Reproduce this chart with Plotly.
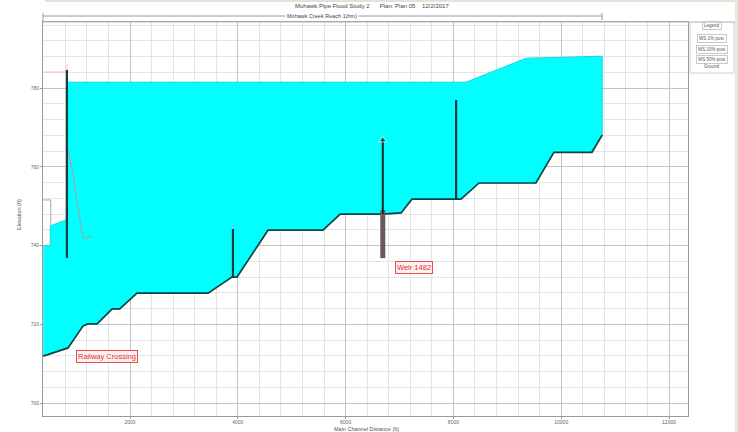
import plotly.graph_objects as go

# Water surface (upper edge of the flooded area), main channel distance (ft) vs elevation (ft)
ws_x = [390, 520, 520, 760, 820, 835, 8230, 9350, 10760]
ws_y = [739.9, 739.9, 745.0, 746.2, 746.5, 781.5, 781.5, 787.6, 788.1]

# Channel invert / ground profile
ground_x = [390, 850, 1130, 1220, 1390, 1670, 1810, 2130, 3450, 3890, 3985, 4560, 5580,
            5900, 6690, 7030, 7230, 8140, 8475, 9530, 9865, 10570, 10760]
ground_y = [711.9, 714.0, 719.6, 720.1, 720.1, 723.9, 723.9, 727.9, 727.9, 732.0, 732.0, 743.9, 743.9,
            748.0, 748.0, 748.3, 751.8, 751.8, 755.9, 755.9, 763.7, 763.7, 768.1]

# Structures drawn as vertical bars (station, bottom, top)
struct_x = [830, 3910, 8050]
struct_lo = [736.8, 732.0, 751.8]
struct_hi = [784.6, 744.2, 777.0]

# Weir: deck below ground and the part standing in the flow
weir_x = 6690
weir_deck = [736.8, 749.0]
weir_top = [748.0, 766.8]

# Secondary profile near the railway crossing
alt_x = [850, 930, 1010, 1090, 1130, 1180, 1295]
alt_y = [764.3, 759.0, 752.0, 745.0, 742.2, 741.9, 742.4]

edge_x = [390, 530, 530]
edge_y = [751.6, 751.6, 745.0]

hi_x = [390, 830, 830]
hi_y = [784.1, 784.1, 786.0]

x_ticks = [2000, 4000, 6000, 8000, 10000, 12000]
y_ticks = [700, 720, 740, 760, 780]
x_range = [386, 12352]
y_range = [696.7, 796.8]

title_text = "Mohawk Pipe Flood Study 2      Plan: Plan 05    12/2/2017"
reach_text = "Mohawk Creek Reach 1(hm)"
legend_items = ["Legend", "WS 1% post", "WS 10% post", "WS 50% post", "Ground"]
labels = [("Railway Crossing", 1573, 711.9), ("Weir 1482", 7269, 734.5)]

FONT = "Liberation Sans"

poly_x = ws_x + ground_x[::-1]
poly_y = ws_y + ground_y[::-1]

fig = go.Figure()

fig.add_trace(go.Scatter(x=poly_x, y=poly_y, mode="lines", fill="toself",
                         fillcolor="#00ffff", line=dict(color="#18d4e0", width=1),
                         hoverinfo="skip"))
fig.add_trace(go.Scatter(x=hi_x, y=hi_y, mode="lines",
                         line=dict(color="#f2c6c0", width=1), hoverinfo="skip"))
fig.add_trace(go.Scatter(x=edge_x, y=edge_y, mode="lines",
                         line=dict(color="#a8a8a8", width=1), hoverinfo="skip"))
fig.add_trace(go.Scatter(x=alt_x, y=alt_y, mode="lines",
                         line=dict(color="#9aa8a8", width=1.2, shape="spline"),
                         hoverinfo="skip"))
fig.add_trace(go.Scatter(x=ground_x, y=ground_y, mode="lines",
                         line=dict(color="#124444", width=1.7), hoverinfo="skip"))

for sx, lo, hi in zip(struct_x, struct_lo, struct_hi):
    fig.add_trace(go.Scatter(x=[sx, sx], y=[lo, hi], mode="lines",
                             line=dict(color="#143c3c", width=2.2), hoverinfo="skip"))

fig.add_trace(go.Scatter(x=[weir_x, weir_x], y=weir_deck, mode="lines",
                         line=dict(color="#6a5a5a", width=5), hoverinfo="skip"))
fig.add_trace(go.Scatter(x=[weir_x, weir_x], y=weir_top, mode="lines+markers",
                         line=dict(color="#1a2a2a", width=2),
                         marker=dict(symbol="triangle-up", size=[0, 7], color="#1a2a2a"),
                         hoverinfo="skip"))

for text, lx, ly in labels:
    fig.add_annotation(x=lx, y=ly, xref="x", yref="y", text=text, showarrow=False,
                       xanchor="center", yanchor="middle",
                       font=dict(family=FONT, size=7.5, color="#e03030"),
                       bgcolor="#fff0f0", bordercolor="#e05050", borderwidth=1, borderpad=1)

# Frame elements around the plot: title, reach line with end ticks, legend panel
L, R, T, B = 43, 688, 22, 416


def px(xp):
    return (xp - L) / (R - L)


def py(yp):
    return (B - yp) / (B - T)


shapes = [
    dict(type="line", xref="paper", yref="paper", x0=0, x1=px(602), y0=py(16), y1=py(16),
         line=dict(color="#9a9a9a", width=1)),
    dict(type="line", xref="paper", yref="paper", x0=0, x1=0, y0=py(22), y1=py(13),
         line=dict(color="#9a9a9a", width=1)),
    dict(type="line", xref="paper", yref="paper", x0=px(602), x1=px(602), y0=py(20), y1=py(13),
         line=dict(color="#9a9a9a", width=1)),
    dict(type="line", xref="paper", yref="paper", x0=0, x1=px(738), y0=1, y1=1,
         line=dict(color="#b8b8b8", width=1)),
    dict(type="line", xref="paper", yref="paper", x0=px(45), x1=px(738), y0=py(1), y1=py(1),
         line=dict(color="#dde6d4", width=2)),
    dict(type="line", xref="paper", yref="paper", x0=px(736.5), x1=px(736.5), y0=py(432), y1=py(0),
         line=dict(color="#e2ecd6", width=3)),
    dict(type="rect", xref="paper", yref="paper", x0=px(690), x1=px(734), y0=py(73), y1=py(22),
         line=dict(color="#d0d0d0", width=1)),
]
fig.update_layout(shapes=shapes)

fig.add_annotation(x=px(372), y=py(6), xref="paper", yref="paper", text=title_text,
                   xanchor="center", yanchor="middle",
                   showarrow=False, font=dict(family=FONT, size=6, color="#444"))
fig.add_annotation(x=px(322), y=py(16), xref="paper", yref="paper", text=reach_text,
                   xanchor="center", yanchor="middle",
                   showarrow=False, bgcolor="white",
                   font=dict(family=FONT, size=5.5, color="#444"))

legend_rows = [25.5, 38, 49, 59, 67]
for i, (txt, yr) in enumerate(zip(legend_items, legend_rows)):
    fig.add_annotation(x=px(712), y=py(yr), xref="paper", yref="paper", text=txt,
                       xanchor="center", yanchor="middle",
                       showarrow=False, font=dict(family=FONT, size=4.5, color="#555"),
                       bordercolor="#c8c8c8" if i < 4 else "rgba(0,0,0,0)",
                       borderwidth=1, borderpad=1)

fig.add_annotation(x=px(19), y=py(215), xref="paper", yref="paper", text="Elevation (ft)",
                   xanchor="center", yanchor="middle",
                   textangle=-90, showarrow=False,
                   font=dict(family=FONT, size=5.5, color="#555"))
fig.add_annotation(x=px(366), y=py(429), xref="paper", yref="paper",
                   xanchor="center", yanchor="middle",
                   text="Main Channel Distance (ft)", showarrow=False,
                   font=dict(family=FONT, size=5.5, color="#555"))

axis_common = dict(showline=True, linecolor="#9a9a9a", linewidth=1, mirror=True,
                   ticks="outside", ticklen=2, tickcolor="#9a9a9a", automargin=False,
                   gridcolor="#c4c4c4", gridwidth=1, zeroline=False,
                   tickfont=dict(family=FONT, size=5, color="#666"))

fig.update_xaxes(range=x_range, tickvals=x_ticks, ticktext=[str(v) for v in x_ticks],
                 ticklabelstandoff=-1,
                 minor=dict(dtick=400, tick0=0, showgrid=True, gridcolor="#e4e4e4", gridwidth=1),
                 **axis_common)
fig.update_yaxes(range=y_range, tickvals=y_ticks, ticktext=[str(v) for v in y_ticks],
                 minor=dict(dtick=4, tick0=700, showgrid=True, gridcolor="#e4e4e4", gridwidth=1),
                 **axis_common)

fig.update_layout(width=738, height=432, margin=dict(l=L, r=738 - R, t=T, b=432 - B),
                  paper_bgcolor="white", plot_bgcolor="white", showlegend=False,
                  font=dict(family=FONT))

fig.write_html("out.html", config={"displayModeBar": False})
